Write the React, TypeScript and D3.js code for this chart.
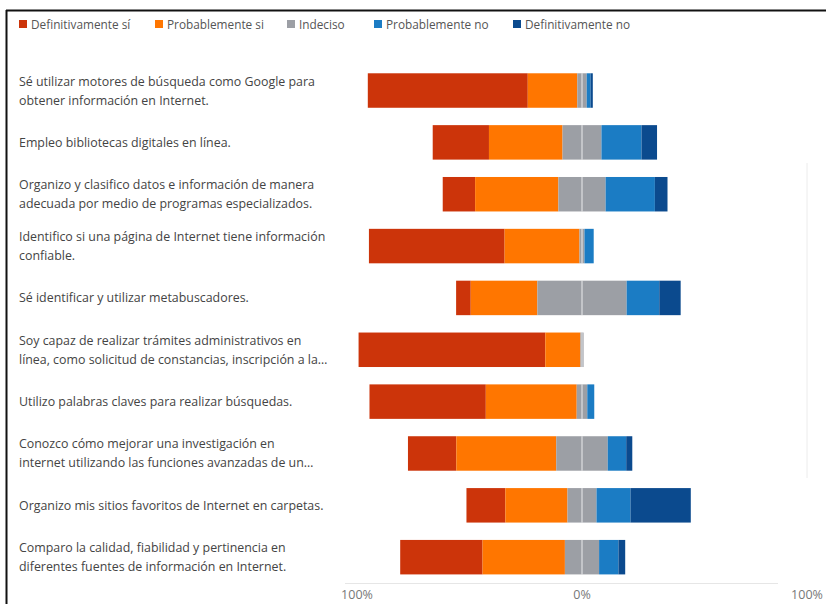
import React from "react";
import * as d3 from "d3";

const categories: string[][] = [
  ["Sé utilizar motores de búsqueda como Google para", "obtener información en Internet."],
  ["Empleo bibliotecas digitales en línea."],
  ["Organizo y clasifico datos e información de manera", "adecuada por medio de programas especializados."],
  ["Identifico si una página de Internet tiene información", "confiable."],
  ["Sé identificar y utilizar metabuscadores."],
  ["Soy capaz de realizar trámites administrativos en", "línea, como solicitud de constancias, inscripción a la…"],
  ["Utilizo palabras claves para realizar búsquedas."],
  ["Conozco cómo mejorar una investigación en", "internet utilizando las funciones avanzadas de un…"],
  ["Organizo mis sitios favoritos de Internet en carpetas."],
  ["Comparo la calidad, fiabilidad y pertinencia en", "diferentes fuentes de información en Internet."],
];

const seriesNames = ["Definitivamente sí", "Probablemente si", "Indeciso", "Probablemente no", "Definitivamente no"];

const definitivamenteSi = [71.1, 25.0, 14.4, 60.3, 6.5, 83.0, 51.7, 21.5, 17.3, 36.6];
const probablementeSi = [22.0, 32.7, 37.0, 33.3, 29.6, 15.6, 40.4, 44.4, 27.6, 36.6];
const indeciso = [4.2, 17.3, 21.0, 2.2, 39.7, 1.4, 4.7, 22.9, 12.9, 15.2];
const probablementeNo = [1.7, 17.8, 21.9, 4.1, 14.5, 0, 3.1, 8.2, 15.1, 8.6];
const definitivamenteNo = [1.0, 6.9, 5.6, 0, 9.5, 0, 0, 2.7, 26.8, 3.0];

const tickValues = [-100, 0, 100];
const tickLabels = ["100%", "0%", "100%"];

const colors = ["#cc340a", "#ff7600", "#9c9fa5", "#1b7cc4", "#0b4a8e"];

export default function App() {
  const W = 826;
  const H = 604;
  const x = d3.scaleLinear().domain([-100, 100]).range([357, 807]);
  const idx = categories.map((_, i) => i);
  const y = d3
    .scaleBand<number>()
    .domain(idx)
    .range([64.6, 583.1])
    .paddingInner(0.335)
    .paddingOuter(0.1675);

  const rows = idx.map((i) => {
    const vals = [
      definitivamenteSi[i],
      probablementeSi[i],
      indeciso[i],
      probablementeNo[i],
      definitivamenteNo[i],
    ];
    let start = -(vals[0] + vals[1] + vals[2] / 2);
    const segs = vals.map((v, k) => {
      const s = { x0: start, x1: start + v, k };
      start += v;
      return s;
    });
    return segs;
  });

  const legendX = [19, 155, 287, 374, 513];
  const font = "'Open Sans', 'Noto Sans', sans-serif";

  return (
    <div style={{ position: "absolute", left: 0, top: 0 }}>
      <svg width={W} height={H} style={{ display: "block" }}>
        <rect x={0} y={0} width={W} height={H} fill="#fff" />
        <line x1={6.5} y1={10} x2={6.5} y2={H} stroke="#111" strokeWidth={2} />
        <line x1={6} y1={10.5} x2={W} y2={10.5} stroke="#111" strokeWidth={2} />

        {seriesNames.map((n, k) => (
          <g key={n}>
            <rect x={legendX[k]} y={20} width={8} height={8} fill={colors[k]} />
            <text x={legendX[k] + 12} y={28.5} fontSize={11.8} fill="#555" fontFamily={font}>
              {n}
            </text>
          </g>
        ))}

        <line x1={807} y1={163} x2={807} y2={478} stroke="#ececec" strokeWidth={1} />
        <line x1={345} y1={583.5} x2={778} y2={583.5} stroke="#e6e6e6" strokeWidth={1} />

        {categories.map((lines, i) => {
          const c = (y(i) as number) + y.bandwidth() / 2;
          const n = lines.length;
          return (
            <text key={i} fontSize={12.4} fill="#444" fontFamily={font}>
              {lines.map((l, j) => (
                <tspan key={j} x={19} y={c + (j - (n - 1) / 2) * 19 + 4.5}>
                  {l}
                </tspan>
              ))}
            </text>
          );
        })}

        {rows.map((segs, i) => (
          <g key={i}>
            {segs
              .filter((s) => s.x1 > s.x0)
              .map((s) => (
                <rect
                  key={s.k}
                  x={x(s.x0)}
                  y={y(i) as number}
                  width={x(s.x1) - x(s.x0)}
                  height={y.bandwidth()}
                  fill={colors[s.k]}
                />
              ))}
            <line
              x1={x(0)}
              x2={x(0)}
              y1={y(i) as number}
              y2={(y(i) as number) + y.bandwidth()}
              stroke="#fff"
              strokeOpacity={0.8}
              strokeWidth={1}
            />
          </g>
        ))}

        {tickValues.map((t, k) => (
          <text
            key={k}
            x={x(t)}
            y={599}
            textAnchor="middle"
            fontSize={12.5}
            fill="#777"
            fontFamily={font}
          >
            {tickLabels[k]}
          </text>
        ))}
      </svg>
    </div>
  );
}
